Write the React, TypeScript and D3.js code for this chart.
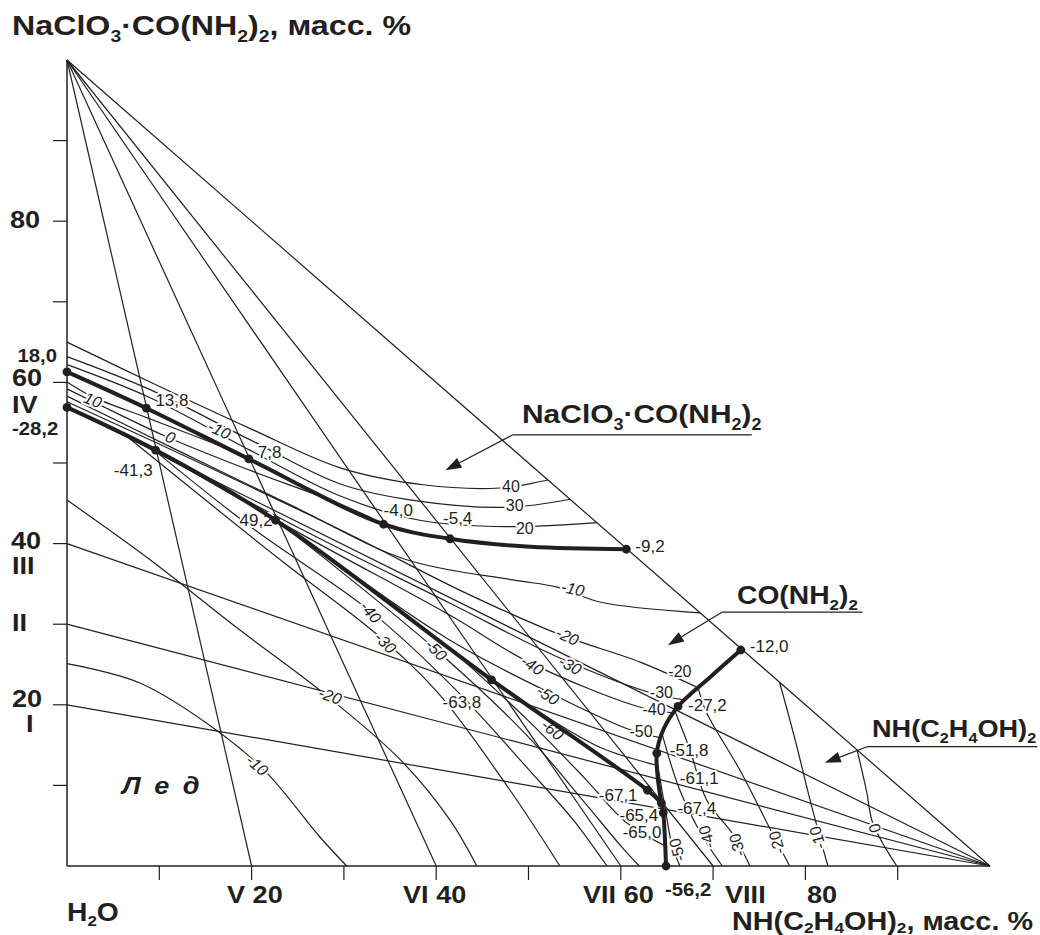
import React from "react";
import * as d3 from "d3";

type P = [number, number];

// ---------------- data (composition in mass %, x = NH(C2H4OH)2, y = NaClO3·CO(NH2)2) ----------------
const X_TICKS = [10, 20, 30, 40, 50, 60, 70, 80, 90];
const Y_TICKS = [10, 20, 30, 40, 50, 60, 70, 80, 90];
const APEX_RAYS = [20, 40, 60, 70]; // sections V, VI, VII, VIII (end on H2O–DEA side)
const SIDE_RAYS = [20, 30, 40, 56.9]; // sections I, II, III, IV (start on H2O–compound side)

const CURVE_1: P[] = [[0, 61.3], [8.6, 56.8], [19.7, 50.5], [34.3, 42.4], [41.5, 40.6], [50.2, 39.6], [60.6, 39.3]];
const CURVE_2: P[] = [[0, 56.9], [9.6, 51.6], [22.6, 42.9], [46.0, 23.1], [62.9, 9.4], [64.4, 7.8]];
const CURVE_3: P[] = [[73.0, 26.8], [69.7, 23.45], [66.2, 19.8], [64.6, 16.9], [63.9, 14.0], [64.0, 11.0], [64.4, 7.8], [64.6, 6.6], [64.9, 0]];

const POINTS: { p: P; t: string }[] = [
  { p: [0, 61.3], t: "18,0" },
  { p: [8.6, 56.8], t: "13,8" },
  { p: [19.7, 50.5], t: "7,8" },
  { p: [34.3, 42.4], t: "-4,0" },
  { p: [41.5, 40.6], t: "-5,4" },
  { p: [60.6, 39.3], t: "-9,2" },
  { p: [0, 56.9], t: "-28,2" },
  { p: [9.6, 51.6], t: "-41,3" },
  { p: [22.6, 42.9], t: "49,2" },
  { p: [46.0, 23.1], t: "-63,8" },
  { p: [62.9, 9.4], t: "-67,1" },
  { p: [64.4, 7.8], t: "-67,4" },
  { p: [64.6, 6.6], t: "-65,4" },
  { p: [64.9, 0], t: "-56,2" },
  { p: [63.9, 14.0], t: "-51,8" },
  { p: [66.2, 19.8], t: "-27,2" },
  { p: [73.0, 26.8], t: "-12,0" },
];
const FREE_TEMPS: { p: P; t: string }[] = [
  { p: [66.4, 10.2], t: "-61,1" },
  { p: [60.2, 3.5], t: "-65,0" },
];

const ISO_COMPOUND: { t: number; pts: P[] }[] = [
  { t: 40, pts: [[0, 65.0], [9.0, 60.05], [19.8, 54.3], [29.6, 49.4], [38.6, 47.3], [46.9, 46.9], [52.1, 47.9]] },
  { t: 30, pts: [[0, 63.2], [9.0, 59.1], [19.8, 52.9], [29.6, 47.4], [37.9, 45.3], [47.7, 44.5], [54.5, 45.5]] },
  { t: 20, pts: [[0, 62.2], [9.0, 58.1], [19.8, 51.6], [29.6, 45.9], [38.2, 42.9], [47.7, 42.1], [57.4, 42.6]] },
];
const ISO_UREA: { t: number; pts: P[] }[] = [
  { t: 10, pts: [[0, 60.05], [2.8, 58.2], [8.7, 55.6], [14.4, 53.1], [18.7, 51.2]] },
  { t: 0, pts: [[0, 59.2], [5.7, 56.0], [10.9, 53.2], [19.8, 49.1], [28.5, 45.4], [33.0, 43.2]] },
  { t: -10, pts: [[0, 58.3], [11.2, 52.0], [24.2, 44.8], [36.8, 38.0], [48.3, 35.5], [53.1, 34.6], [57.75, 32.75], [68.6, 31.4]] },
  { t: -20, pts: [[0, 57.6], [14.4, 50.0], [30.7, 41.1], [42.6, 34.2], [53.2, 28.8], [62.1, 25.3], [68.4, 22.1]] },
  { t: -30, pts: [[3.6, 55.1], [25.2, 41.9], [41.5, 32.6], [53.4, 25.8], [63.2, 21.5], [67.0, 20.6]] },
  { t: -40, pts: [[8.0, 52.6], [25.2, 41.3], [41.5, 31.1], [50.2, 25.2], [62.4, 19.6], [65.8, 19.0]] },
  { t: -50, pts: [[28.5, 38.2], [41.5, 28.0], [52.1, 21.6], [61.0, 16.9], [64.4, 15.9]] },
  { t: -60, pts: [[44.0, 24.8], [52.0, 18.5], [58.0, 14.6], [63.9, 12.5]] },
];
const ISO_ICE: { t: number; pts: P[] }[] = [
  { t: -10, pts: [[0, 25.1], [7.9, 22.7], [16.6, 16.5], [21.7, 11.5], [27.4, 3.6], [30.3, 0]] },
  { t: -20, pts: [[0, 45.4], [9.0, 38.0], [18.7, 29.3], [27.4, 21.8], [36.1, 13.2], [41.5, 5.7], [44.4, 0]] },
  { t: -30, pts: [[6.8, 53.0], [23.1, 38.0], [33.4, 28.9], [40.1, 21.6], [48.0, 9.4], [53.4, 0]] },
  { t: -40, pts: [[9.0, 52.0], [20.0, 42.0], [33.0, 31.5], [42.0, 22.0], [50.0, 12.0], [55.0, 5.5], [58.5, 0]] },
  { t: -50, pts: [[24.0, 41.7], [40.0, 26.8], [50.0, 16.0], [56.0, 8.0], [60.0, 2.5], [62.0, 0]] },
  { t: -60, pts: [[42.0, 26.5], [50.0, 18.0], [56.0, 11.0], [60.5, 5.5], [64.8, 2.5]] },
];
const ISO_DEA: { t: number; pts: P[] }[] = [
  { t: 0, pts: [[85.6, 14.4], [86.6, 9.4], [87.3, 5.3], [88.8, 2.0], [89.9, 0]] },
  { t: -10, pts: [[77.2, 22.8], [78.9, 15.6], [80.5, 8.2], [81.8, 2.6], [82.45, 0]] },
  { t: -20, pts: [[68.4, 22.0], [69.3, 19.0], [72.9, 11.9], [76.4, 4.1], [78.3, 0]] },
  { t: -30, pts: [[65.9, 19.1], [67.5, 14.4], [69.3, 8.2], [72.2, 3.85], [74.0, 0]] },
  { t: -40, pts: [[64.5, 16.3], [66.4, 9.4], [68.9, 3.6], [71.0, 0]] },
  { t: -50, pts: [[64.0, 12.5], [64.9, 6.5], [65.55, 2.6], [66.4, 0]] },
];

// isotherm labels: text, position (composition)
const ISO_LABELS_UPRIGHT: { t: string; p: P }[] = [
  { t: "40", p: [48.1, 47.1] }, { t: "30", p: [48.5, 44.7] }, { t: "20", p: [49.6, 41.9] },
  { t: "-20", p: [66.4, 24.1] }, { t: "-30", p: [64.4, 21.5] }, { t: "-40", p: [63.6, 19.4] }, { t: "-50", p: [62.2, 16.7] },
];
const ISO_LABELS_ITALIC: { t: string; p: P }[] = [
  { t: "10", p: [2.8, 57.8] }, { t: "-10", p: [16.5, 54.1] }, { t: "0", p: [11.2, 53.2] },
  { t: "-10", p: [54.8, 34.4] }, { t: "-20", p: [54.2, 28.5] }, { t: "-30", p: [54.5, 24.9] },
  { t: "-40", p: [50.4, 24.9] }, { t: "-50", p: [52.1, 21.2] },
  { t: "-40", p: [32.9, 31.5] }, { t: "-30", p: [34.5, 27.7] }, { t: "-50", p: [40.0, 26.8] },
  { t: "-20", p: [28.5, 21.1] }, { t: "-10", p: [20.6, 12.5] }, { t: "-60", p: [52.6, 16.9] },
];
const ISO_LABELS_DEA: { t: string; p: P }[] = [
  { t: "0", p: [87.5, 4.7] }, { t: "-10", p: [81.3, 3.5] }, { t: "-20", p: [76.9, 2.9] },
  { t: "-30", p: [72.6, 2.6] }, { t: "-40", p: [69.3, 3.6] }, { t: "-50", p: [66.1, 2.0] },
];

const Y_AXIS_LABELS = ["80", "60", "40", "20"];
const Y_RAY_LABELS = ["IV", "III", "II", "I"];
const X_AXIS_LABELS = ["V 20", "VI 40", "VII 60", "VIII", "80"];

// ---------------- layout / style ----------------
const INK = "#231f20";
const FONT = "Arial, 'Liberation Sans', Helvetica, sans-serif";
const SX = 1.13; // horizontal stretch of the bold captions

const POINT_LABEL_LAYOUT: Record<string, { dx: number; dy: number; a?: string }> = {
  "13,8": { dx: 9, dy: -2 },
  "7,8": { dx: 9, dy: -1 },
  "-4,0": { dx: 0, dy: -8 },
  "-5,4": { dx: -7, dy: -15 },
  "-9,2": { dx: 9, dy: 3 },
  "-41,3": { dx: -3, dy: 26, a: "end" },
  "49,2": { dx: -3, dy: 6, a: "end" },
  "-63,8": { dx: -49, dy: 28 },
  "-67,1": { dx: -10, dy: 11, a: "end" },
  "-67,4": { dx: 16, dy: 11 },
  "-65,4": { dx: -5, dy: 8, a: "end" },
  "-51,8": { dx: 13, dy: 3 },
  "-27,2": { dx: 10, dy: 5 },
  "-12,0": { dx: 9, dy: 2 },
};
const BOLD_POINT_LABELS: Record<string, { x: number; y: number; a: string }> = {
  "18,0": { x: 57, y: 362, a: "end" },
  "-28,2": { x: 12, y: 435, a: "start" },
  "-56,2": { x: 665, y: 896, a: "start" },
};
const ITALIC_ROT = [22, 25, 25, 12, 25, 28, 33, 33, 50, 45, 45, 20, 40, 40];

type Part = [string, boolean];
function chem(parts: Part[], size: number, shift = 0.25) {
  let shifted = false;
  return parts.map(([t, sub], i) => {
    let dy = 0;
    if (sub && !shifted) dy = size * shift;
    if (!sub && shifted) dy = -size * shift;
    shifted = sub;
    return (
      <tspan key={i} dy={dy} fontSize={sub ? size * 0.6 : size}>
        {t}
      </tspan>
    );
  });
}

function BT(props: { x: number; y: number; size: number; anchor?: string; italic?: boolean; children: any }) {
  return (
    <text
      transform={`translate(${props.x},${props.y}) scale(${SX},1)`}
      fontSize={props.size}
      fontWeight="bold"
      textAnchor={(props.anchor as any) || "start"}
      fontStyle={props.italic ? "italic" : undefined}
    >
      {props.children}
    </text>
  );
}

const TITLE_PARTS: Part[] = [["NaClO", false], ["3", true], ["·", false], ["CO(NH", false], ["2", true], [")", false], ["2", true], [", масс. %", false]];
const COMPOUND_PARTS: Part[] = [["NaClO", false], ["3", true], ["·", false], ["CO(NH", false], ["2", true], [")", false], ["2", true]];
const UREA_PARTS: Part[] = [["CO(NH", false], ["2", true], [")", false], ["2", true]];
const DEA_PARTS: Part[] = [["NH(C", false], ["2", true], ["H", false], ["4", true], ["OH)", false], ["2", true]];
const XTITLE_PARTS: Part[] = [["NH(C", false], ["2", true], ["H", false], ["4", true], ["OH)", false], ["2", true], [", масс. %", false]];
const H2O_PARTS: Part[] = [["H", false], ["2", true], ["O", false]];

export default function App() {
  const x = d3.scaleLinear().domain([0, 100]).range([67, 990]);
  const y = d3.scaleLinear().domain([0, 100]).range([866, 60]);
  const smooth = d3.line<P>().x((d) => x(d[0])).y((d) => y(d[1])).curve(d3.curveCatmullRom.alpha(0.5));
  const straight = d3.line<P>().x((d) => x(d[0])).y((d) => y(d[1]));

  const halo = { stroke: "#fff", strokeWidth: 4, strokeLinejoin: "round" as const, paintOrder: "stroke" as const };

  const arrow = (from: P, to: P, key: string) => {
    const x1 = x(from[0]), y1 = y(from[1]), x2 = x(to[0]), y2 = y(to[1]);
    const ang = Math.atan2(y2 - y1, x2 - x1);
    const L = 16, Wd = 5.5;
    const bx = x2 - L * Math.cos(ang), by = y2 - L * Math.sin(ang);
    const p1 = [bx + Wd * Math.sin(ang), by - Wd * Math.cos(ang)];
    const p2 = [bx - Wd * Math.sin(ang), by + Wd * Math.cos(ang)];
    return (
      <g key={key}>
        <line x1={x1} y1={y1} x2={bx} y2={by} stroke={INK} strokeWidth={1.2} />
        <path d={`M${x2},${y2}L${p1[0]},${p1[1]}L${p2[0]},${p2[1]}Z`} fill={INK} />
      </g>
    );
  };

  const allIso = [...ISO_COMPOUND, ...ISO_UREA, ...ISO_ICE, ...ISO_DEA];

  const yLabelLayout = [
    { t: Y_AXIS_LABELS[0], x: 10, yb: 228 },
    { t: Y_AXIS_LABELS[1], x: 12, yb: 386 },
    { t: Y_AXIS_LABELS[2], x: 11, yb: 549 },
    { t: Y_AXIS_LABELS[3], x: 12, yb: 707 },
  ];
  const rayLabelLayout = [
    { t: Y_RAY_LABELS[0], x: 12, yb: 413 },
    { t: Y_RAY_LABELS[1], x: 12, yb: 574 },
    { t: Y_RAY_LABELS[2], x: 12, yb: 631 },
    { t: Y_RAY_LABELS[3], x: 26, yb: 732 },
  ];
  const xLabelLayout = [227, 403, 583, 725, 807];

  return (
    <svg width={1040} height={935} style={{ position: "absolute", left: 0, top: 0, background: "#fff" }} fontFamily={FONT}>
      <rect width={1040} height={935} fill="#fff" />
      {/* isotherms */}
      <g fill="none" stroke={INK} strokeWidth={1.2}>
        {allIso.map((iso, i) => (
          <path key={i} d={smooth(iso.pts) || ""} />
        ))}
      </g>
      {/* section rays */}
      <g stroke={INK} strokeWidth={1.2}>
        {APEX_RAYS.map((v) => (
          <path key={"a" + v} d={straight([[0, 100], [v, 0]]) || ""} />
        ))}
        {SIDE_RAYS.map((v) => (
          <path key={"s" + v} d={straight([[0, v], [100, 0]]) || ""} />
        ))}
      </g>

      {/* isotherm labels with halo */}
      <g fill={INK} fontSize={16} style={halo as any}>
        {ISO_LABELS_UPRIGHT.map((l, i) => (
          <text key={i} x={x(l.p[0])} y={y(l.p[1])} dy="0.35em" textAnchor="middle">
            {l.t}
          </text>
        ))}
        {ISO_LABELS_ITALIC.map((l, i) => (
          <text key={i} x={x(l.p[0])} y={y(l.p[1])} dy="0.35em" textAnchor="middle" fontStyle="italic"
            transform={`rotate(${ITALIC_ROT[i]},${x(l.p[0])},${y(l.p[1])})`}>
            {l.t}
          </text>
        ))}
        {ISO_LABELS_DEA.map((l, i) => (
          <text key={i} x={x(l.p[0])} y={y(l.p[1])} dy="0.35em" textAnchor="middle"
            transform={`rotate(-105,${x(l.p[0])},${y(l.p[1])})`}>
            {l.t}
          </text>
        ))}
        {FREE_TEMPS.map((l, i) => (
          <text key={i} x={x(l.p[0])} y={y(l.p[1])} fontSize={17}>
            {l.t}
          </text>
        ))}
        {POINTS.filter((pt) => POINT_LABEL_LAYOUT[pt.t]).map((pt, i) => {
          const lay = POINT_LABEL_LAYOUT[pt.t];
          return (
            <text key={i} x={x(pt.p[0]) + lay.dx} y={y(pt.p[1]) + lay.dy} textAnchor={(lay.a as any) || "start"} fontSize={17}>
              {pt.t}
            </text>
          );
        })}
      </g>

      {/* thick boundary curves */}
      <g fill="none" stroke={INK} strokeWidth={4} strokeLinecap="round" strokeLinejoin="round">
        <path d={smooth(CURVE_1) || ""} />
        <path d={smooth(CURVE_2) || ""} />
        <path d={smooth(CURVE_3) || ""} />
      </g>
      <g fill={INK}>
        {POINTS.map((pt, i) => (
          <circle key={i} cx={x(pt.p[0])} cy={y(pt.p[1])} r={4.4} />
        ))}
      </g>

      {/* axes & triangle */}
      <g stroke={INK} strokeWidth={1.5}>
        <line x1={x(0)} y1={y(0)} x2={x(0)} y2={y(100)} />
        <line x1={x(0)} y1={y(0)} x2={x(100)} y2={y(0)} />
        <line x1={x(0)} y1={y(100)} x2={x(100)} y2={y(0)} strokeWidth={1.2} />
        {Y_TICKS.map((t) => (
          <line key={"yt" + t} x1={x(0) - 14} x2={x(0)} y1={y(t)} y2={y(t)} strokeWidth={1.2} />
        ))}
        {X_TICKS.map((t) => (
          <line key={"xt" + t} x1={x(t)} x2={x(t)} y1={y(0)} y2={y(0) + 14} strokeWidth={1.2} />
        ))}
      </g>

      {/* captions */}
      <g fill={INK}>
        {yLabelLayout.map((l) => (
          <BT key={l.t} x={l.x} y={l.yb} size={24}>{l.t}</BT>
        ))}
        {rayLabelLayout.map((l) => (
          <BT key={l.t} x={l.x} y={l.yb} size={24}>{l.t}</BT>
        ))}
        {X_AXIS_LABELS.map((t, i) => (
          <BT key={t} x={xLabelLayout[i]} y={903} size={24}>{t}</BT>
        ))}
        {POINTS.filter((pt) => BOLD_POINT_LABELS[pt.t]).map((pt) => {
          const b = BOLD_POINT_LABELS[pt.t];
          return (
            <BT key={pt.t} x={b.x} y={b.y} size={18} anchor={b.a}>{pt.t}</BT>
          );
        })}
        <BT x={12} y={35} size={28.5}>{chem(TITLE_PARTS, 28.5)}</BT>
        <BT x={67} y={921} size={25}>{chem(H2O_PARTS, 25, 0.2)}</BT>
        <BT x={1033} y={930} size={25.5} anchor="end">{chem(XTITLE_PARTS, 25.5, 0.1)}</BT>
        <BT x={522} y={423} size={26.5}>{chem(COMPOUND_PARTS, 26.5)}</BT>
        <BT x={737} y={604} size={25}>{chem(UREA_PARTS, 25)}</BT>
        <BT x={872} y={737} size={24}>{chem(DEA_PARTS, 24)}</BT>
        <BT x={122} y={794} size={24} italic>{"Л\u2002е\u2002д"}</BT>
      </g>

      {/* annotation underlines & arrows */}
      <g stroke={INK} strokeWidth={1.2}>
        <line x1={x(48.3)} y1={y(53.5)} x2={x(48.3) + 239} y2={y(53.5)} />
        <line x1={x(71.0)} y1={y(31.5)} x2={x(71.0) + 140} y2={y(31.5)} />
        <line x1={x(86.7)} y1={y(14.8)} x2={x(86.7) + 170} y2={y(14.8)} />
      </g>
      {arrow([48.3, 53.5], [41.0, 49.1], "a1")}
      {arrow([71.0, 31.5], [65.1, 27.4], "a2")}
      {arrow([86.7, 14.8], [82.1, 12.8], "a3")}
    </svg>
  );
}
